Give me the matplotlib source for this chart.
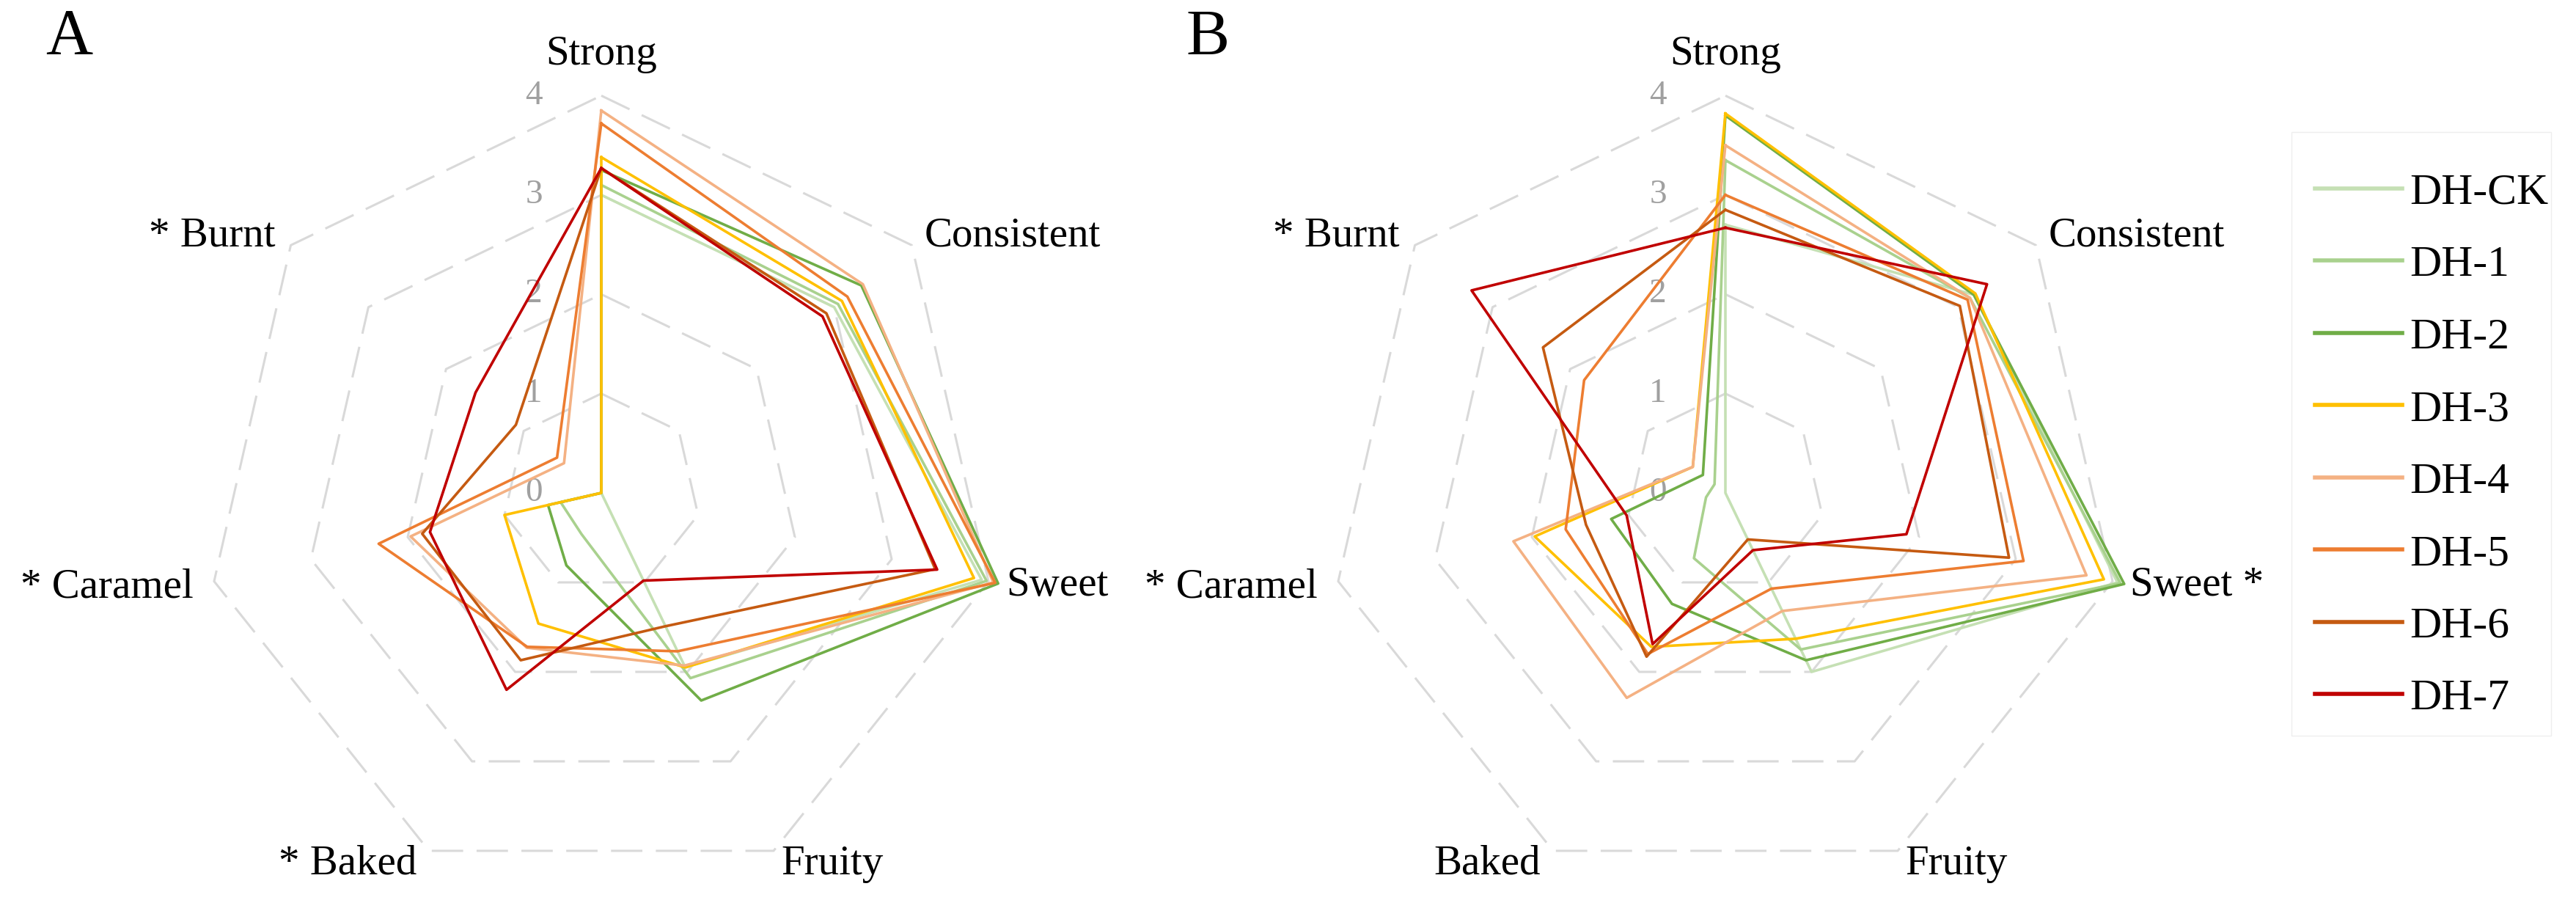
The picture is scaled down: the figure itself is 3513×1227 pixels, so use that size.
import numpy as np
import matplotlib
matplotlib.use("Agg")
import matplotlib.pyplot as plt
from matplotlib.lines import Line2D
from matplotlib.patches import Rectangle

plt.rcParams['font.family'] = ['Liberation Serif', 'DejaVu Serif']

# ---------------- data ----------------
axes_order = ["Strong", "Consistent", "Sweet", "Fruity", "Baked", "Caramel", "Burnt"]
labels_A = ["Strong", "Consistent", "Sweet", "Fruity", "* Baked", "* Caramel", "* Burnt"]
labels_B = ["Strong", "Consistent", "Sweet *", "Fruity", "Baked", "* Caramel", "* Burnt"]
series = ["DH-CK", "DH-1", "DH-2", "DH-3", "DH-4", "DH-5", "DH-6", "DH-7"]
colors = ["#c5e0b4", "#a9d18e", "#70ad47", "#ffc000", "#f4b183", "#ed7d31", "#c55a11", "#c00000"]
rticks = [0, 1, 2, 3, 4]

# values in order: Strong, Consistent, Sweet, Fruity, Baked, Caramel, Burnt
A_CK = [3.00, 3.00, 3.93, 1.95, 0.00, 0.00, 0.00]
A_1 = [3.10, 3.05, 3.98, 2.07, 0.46, 0.42, 0.00]
A_2 = [3.25, 3.35, 4.10, 2.32, 0.81, 0.55, 0.00]
A_3 = [3.38, 3.10, 3.85, 1.95, 1.46, 1.00, 0.00]
A_4 = [3.85, 3.37, 4.05, 1.93, 1.73, 1.97, 0.48]
A_5 = [3.72, 3.17, 4.07, 1.77, 1.72, 2.30, 0.57]
A_6 = [3.27, 2.90, 3.45, 1.49, 1.87, 1.85, 1.10]
A_7 = [3.27, 2.85, 3.47, 0.98, 2.20, 1.77, 1.62]

B_CK = [2.70, 3.20, 4.05, 2.00, 0.00, 0.00, 0.00]
B_1 = [3.35, 3.15, 4.08, 1.75, 0.73, 0.20, 0.14]
B_2 = [3.80, 3.20, 4.12, 1.87, 1.24, 1.18, 0.29]
B_3 = [3.82, 3.22, 3.91, 1.63, 1.72, 1.97, 0.42]
B_4 = [3.50, 3.15, 3.73, 1.32, 2.29, 2.19, 0.42]
B_5 = [3.00, 3.12, 3.08, 1.07, 1.80, 1.65, 1.82]
B_6 = [2.85, 3.02, 2.93, 0.52, 1.83, 1.44, 2.35]
B_7 = [2.67, 3.37, 1.87, 0.64, 1.69, 1.02, 3.27]

panel_A = [A_CK, A_1, A_2, A_3, A_4, A_5, A_6, A_7]
panel_B = [B_CK, B_1, B_2, B_3, B_4, B_5, B_6, B_7]

# ---------------- layout ----------------
W, H = 3513, 1227
DPI = 100
fig = plt.figure(figsize=(W / DPI, H / DPI), dpi=DPI)

UNIT = 135.4            # pixels per unit
RMAX = 4.2
R = RMAX * UNIT

n = len(axes_order)
theta = np.arange(n) * 2 * np.pi / n
theta_c = np.append(theta, theta[0])

# label offsets in pixels (dx, dy, ha)
label_off = [(0, 56, 'center'), (17, 13, 'left'), (24, -5, 'left'), (10, -18, 'left'),
             (-17, -18, 'right'), (-28, -8, 'right'), (-21, 13, 'right')]


def radar(cx, cy, data, labels):
    ax = fig.add_axes([(cx - R) / W, 1 - (cy + R) / H, 2 * R / W, 2 * R / H], projection='polar')
    ax.set_theta_offset(np.pi / 2)
    ax.set_theta_direction(-1)
    ax.set_ylim(0, RMAX)
    ax.grid(False)
    ax.set_xticks([])
    ax.set_yticks([])
    ax.spines['polar'].set_visible(False)
    ax.patch.set_visible(False)
    for lev in rticks[1:]:
        ax.plot(theta_c, [lev] * (n + 1), color='#d9d9d9', lw=2.2, ls=(0, (14, 6)), zorder=1)
    for vals, col in zip(data, colors):
        v = np.append(vals, vals[0])
        ax.plot(theta_c, v, color=col, lw=2.6, zorder=3, clip_on=False)
    for t in rticks:
        ax.annotate(str(t), xy=(0, t), xytext=(-92, 0), textcoords='offset pixels',
                    ha='center', va='center', fontsize=34, color='#a0a0a0', zorder=2)
    for k, lab in enumerate(labels):
        dx, dy, ha = label_off[k]
        ax.annotate(lab, xy=(theta[k], 4), xytext=(dx, dy), textcoords='offset pixels',
                    ha=ha, va='center', fontsize=41, color='black')
    return ax


radar(820, 672, panel_A, labels_A)
radar(2353, 672, panel_B, labels_B)

fig.text(94 / W, 1 - 52 / H, "A", fontsize=64, ha='center', va='center')
fig.text(1647 / W, 1 - 52 / H, "B", fontsize=64, ha='center', va='center')

# faint legend box
fig.patches.append(Rectangle((3125 / W, 1 - 1003 / H), (3479 - 3125) / W, (1003 - 180) / H,
                             transform=fig.transFigure, fill=False, edgecolor='#eeeeee', lw=1.0))

handles = [Line2D([0], [0], color=c, lw=4) for c in colors]
leg = fig.legend(handles, series, loc='center', bbox_to_anchor=(3316 / W, 1 - 608 / H),
                 fontsize=43, frameon=False, handlelength=2.0, handletextpad=0.17,
                 labelspacing=0.73, borderpad=0.6)

fig.savefig("out.png", dpi=DPI, facecolor='white')
